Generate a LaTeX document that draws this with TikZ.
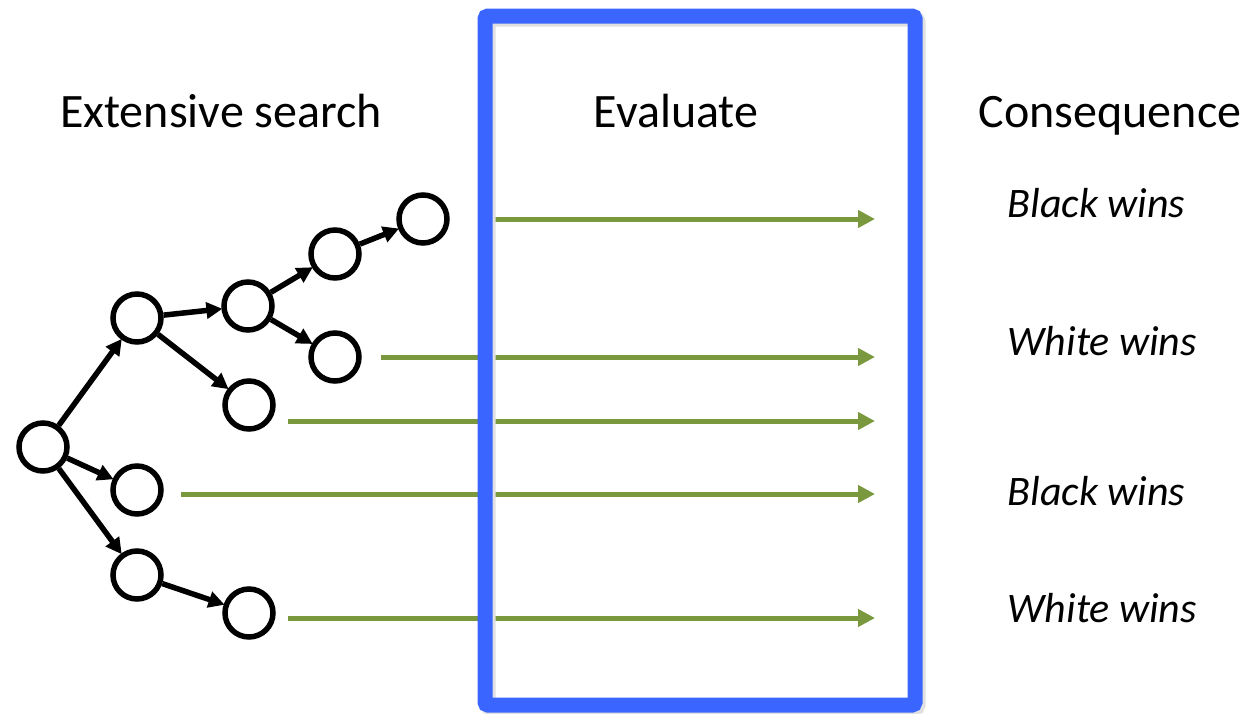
\documentclass[tikz,border=0pt]{standalone}
\usepackage{fontspec}
\setmainfont{Carlito}
\usetikzlibrary{arrows.meta}
\definecolor{evalblue}{RGB}{58,102,255}
\definecolor{olive}{RGB}{122,152,62}
\tikzset{
  treenode/.style={circle, draw=black, line width=5.5pt, minimum size=48pt, inner sep=0pt, fill=white},
  treeedge/.style={line width=5.5pt, -{Triangle[length=16pt,width=16pt]}, shorten >=-1pt},
  evalarrow/.style={line width=5pt, draw=olive, -{Triangle[length=17pt,width=17pt]}, color=olive},
  header/.style={font=\fontsize{48}{54}\selectfont, anchor=base},
  outcome/.style={font=\fontsize{42}{48}\selectfont\itshape, anchor=base west},
}
\begin{document}
\begin{tikzpicture}[x=1pt,y=-1pt]
\useasboundingbox (0,0) rectangle (1254,713);
% tree nodes
\node[treenode] (r) at (43,447) {};
\node[treenode] (a) at (137,318) {};
\node[treenode] (b) at (137,490) {};
\node[treenode] (c) at (137,575) {};
\node[treenode] (aa) at (248,306) {};
\node[treenode] (ab) at (249,405) {};
\node[treenode] (aaa) at (335,254) {};
\node[treenode] (aab) at (335,357) {};
\node[treenode] (aaaa) at (423,219) {};
\node[treenode] (ca) at (249,613) {};
% tree edges
\draw[treeedge] (r) -- (a);
\draw[treeedge] (r) -- (b);
\draw[treeedge] (r) -- (c);
\draw[treeedge] (a) -- (aa);
\draw[treeedge] (a) -- (ab);
\draw[treeedge] (aa) -- (aaa);
\draw[treeedge] (aa) -- (aab);
\draw[treeedge] (aaa) -- (aaaa);
\draw[treeedge] (c) -- (ca);
% evaluation arrows
\coordinate (s1) at (490,219);
\coordinate (s2) at (381,357);
\coordinate (s3) at (288,421);
\coordinate (s4) at (181,494);
\coordinate (s5) at (288,618);
\coordinate (e1) at (875,219);
\coordinate (e2) at (875,357);
\coordinate (e3) at (875,421);
\coordinate (e4) at (875,494);
\coordinate (e5) at (875,618);
\draw[evalarrow] (s1) -- (e1);
\draw[evalarrow] (s2) -- (e2);
\draw[evalarrow] (s3) -- (e3);
\draw[evalarrow] (s4) -- (e4);
\draw[evalarrow] (s5) -- (e5);
% evaluate frame
\draw[black!12, line width=15pt, rounded corners=3pt] (488,19) rectangle (918,708);
\node[draw=evalblue, line width=15pt, rounded corners=3pt, minimum width=430pt, minimum height=689pt, inner sep=0pt, outer sep=0pt, anchor=north west] (frame) at (485,16) {};
% headers
\node[header] (h1) at (221,127) {Extensive search};
\node[header] (h2) at (676,127) {Evaluate};
\node[header] (h3) at (1110,127) {Consequence};
% outcomes
\node[outcome] (o1) at (1004,217) {Black wins};
\node[outcome] (o2) at (1004,355) {White wins};
\node[outcome] (o3) at (1004,505) {Black wins};
\node[outcome] (o4) at (1004,622) {White wins};
\end{tikzpicture}
\end{document}
